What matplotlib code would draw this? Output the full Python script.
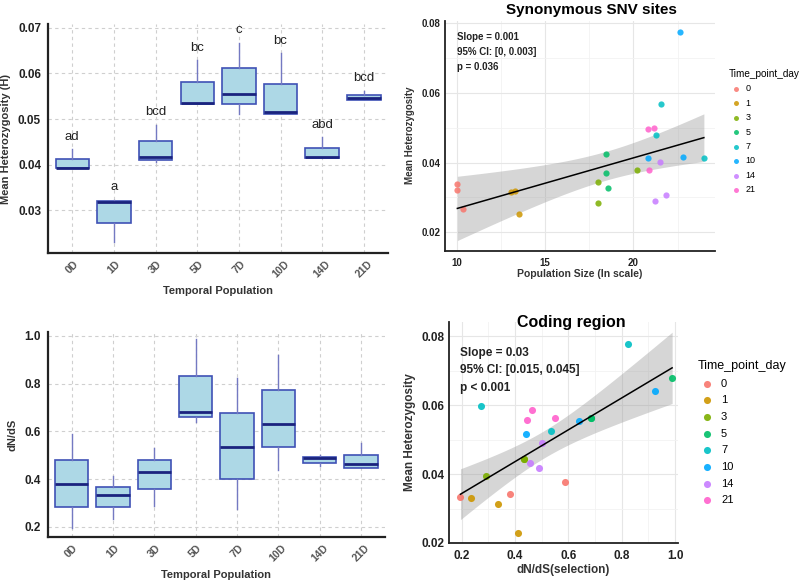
import numpy as np
import matplotlib
matplotlib.use("Agg")
import matplotlib.pyplot as plt

plt.rcParams['font.family'] = ['Liberation Sans', 'DejaVu Sans']

# --------- box plot data ---------
groups = ["0D", "1D", "3D", "5D", "7D", "10D", "14D", "21D"]

# Mean heterozygosity per temporal population
het_whislo = [0.0392, 0.0230, 0.0405, 0.0534, 0.0511, 0.0512, 0.0414, 0.0542]
het_q1     = [0.0392, 0.0272, 0.0410, 0.0534, 0.0532, 0.0512, 0.0414, 0.0542]
het_med    = [0.0393, 0.0318, 0.0416, 0.0536, 0.0555, 0.0515, 0.0417, 0.0546]
het_q3     = [0.0413, 0.0320, 0.0451, 0.0582, 0.0611, 0.0576, 0.0437, 0.0553]
het_whishi = [0.0434, 0.0324, 0.0488, 0.0629, 0.0667, 0.0644, 0.0461, 0.0562]
het_letters = ["ad", "a", "bcd", "bc", "c", "bc", "abd", "bcd"]

# dN/dS per temporal population
dnds_whislo = [0.193, 0.231, 0.287, 0.641, 0.274, 0.439, 0.455, 0.447]
dnds_q1     = [0.284, 0.281, 0.357, 0.662, 0.399, 0.534, 0.467, 0.447]
dnds_med    = [0.378, 0.333, 0.429, 0.683, 0.533, 0.632, 0.488, 0.462]
dnds_q3     = [0.478, 0.368, 0.478, 0.832, 0.676, 0.775, 0.491, 0.502]
dnds_whishi = [0.590, 0.411, 0.531, 0.989, 0.823, 0.921, 0.500, 0.550]

# --------- scatter data ---------
days = [0, 1, 3, 5, 7, 10, 14, 21]
day_colors = ["#F8766D", "#CD9600", "#7CAE00", "#00BE67",
              "#00BFC4", "#00A9FF", "#C77CFF", "#FF61CC"]

syn_day = [0, 0, 0, 1, 1, 1, 3, 3, 3, 5, 5, 5, 7, 7, 7, 10, 10, 10, 14, 14, 14, 21, 21, 21]
syn_popsize = [10.04, 10.04, 10.38, 13.08, 13.30, 13.53, 18.01, 18.01, 20.22,
               18.45, 18.45, 18.55, 21.55, 21.30, 23.99, 22.64, 20.85, 22.81,
               21.49, 21.20, 21.83, 20.85, 21.15, 20.90]
syn_het = [0.0338, 0.0322, 0.0266, 0.0315, 0.0318, 0.0252, 0.0343, 0.0283, 0.0379,
           0.0424, 0.0370, 0.0328, 0.0568, 0.0480, 0.0414, 0.0774, 0.0412, 0.0416,
           0.0402, 0.0291, 0.0306, 0.0496, 0.0499, 0.0380]

cod_day = syn_day
cod_dnds = [0.195, 0.381, 0.586, 0.235, 0.334, 0.411, 0.289, 0.433, 0.433,
            0.989, 0.684, 0.684, 0.273, 0.825, 0.534, 0.439, 0.638, 0.925,
            0.456, 0.491, 0.500, 0.443, 0.463, 0.549]
cod_het = [0.0334, 0.0343, 0.0376, 0.0330, 0.0313, 0.0229, 0.0394, 0.0443, 0.0443,
           0.0679, 0.0564, 0.0564, 0.0598, 0.0778, 0.0526, 0.0517, 0.0555, 0.0643,
           0.0431, 0.0418, 0.0491, 0.0556, 0.0586, 0.0562]

BOX_FACE = "#ADD8E6"
BOX_EDGE = "#3F51B5"
MED_COL = "#1A237E"
WHISK_COL = "#7479C2"


def boxpanel(ax, q1, med, q3, lo, hi, ylabel, ylim, yticks, letters=None):
    stats = []
    for i in range(len(groups)):
        stats.append(dict(med=med[i], q1=q1[i], q3=q3[i], whislo=lo[i], whishi=hi[i],
                          fliers=[], label=groups[i]))
    pos = np.arange(1, len(groups) + 1)
    ax.bxp(stats, positions=pos, widths=0.8, patch_artist=True, showcaps=False,
           boxprops=dict(facecolor=BOX_FACE, edgecolor=BOX_EDGE, linewidth=1.2),
           medianprops=dict(color=MED_COL, linewidth=2),
           whiskerprops=dict(color=WHISK_COL, linewidth=1.0), zorder=3)
    ax.set_xlim(0.42, 8.58)
    ax.set_ylim(*ylim)
    ax.set_yticks(yticks)
    ax.set_xticks(pos)
    ax.set_xticklabels(groups, rotation=45, ha='center', fontsize=7.5,
                       fontweight='bold', color='#555555')
    for lab in ax.get_yticklabels():
        lab.set_fontweight('bold')
        lab.set_fontsize(8.5)
        lab.set_color('#222222')
    ax.grid(True, linestyle=(0, (3, 3)), color='#CFCFCF', linewidth=0.8, zorder=0)
    ax.set_axisbelow(True)
    ax.tick_params(axis='y', length=0, pad=5)
    ax.tick_params(axis='x', length=0, pad=4)
    for s in ['top', 'right']:
        ax.spines[s].set_visible(False)
    for s in ['left', 'bottom']:
        ax.spines[s].set_color('#222222')
        ax.spines[s].set_linewidth(1.6)
    ax.set_xlabel("Temporal Population", fontsize=8, fontweight='bold', color='#333333', labelpad=5)
    ax.set_ylabel(ylabel, fontsize=8, fontweight='bold', color='#333333', labelpad=5)
    if letters:
        for x, h, t in zip(pos, hi, letters):
            ax.text(x, h + 0.0027, t, ha='center', va='center', fontsize=9.5, color='#222222')


def fit_band(x, y):
    x = np.asarray(x); y = np.asarray(y)
    n = len(x)
    b, a = np.polyfit(x, y, 1)
    resid = y - (a + b * x)
    s = np.sqrt(np.sum(resid ** 2) / (n - 2))
    sxx = np.sum((x - x.mean()) ** 2)
    xs = np.linspace(x.min(), x.max(), 80)
    yh = a + b * xs
    se = s * np.sqrt(1.0 / n + (xs - x.mean()) ** 2 / sxx)
    t = 2.074  # t(0.975, df=22)
    return xs, yh, yh - t * se, yh + t * se


def scatterpanel(ax, x, y, day, xlim, ylim, xticks, yticks, xminor, yminor, psize, alpha):
    xs, yh, lo, hi = fit_band(x, y)
    ax.fill_between(xs, lo, hi, color='#999999', alpha=0.4, linewidth=0, zorder=1)
    ax.plot(xs, yh, color='black', linewidth=1.1, zorder=3)
    x = np.asarray(x); y = np.asarray(y); day = np.asarray(day)
    for d, c in zip(days, day_colors):
        m = day == d
        ax.scatter(x[m], y[m], s=psize, color=c, alpha=alpha, linewidths=0, zorder=2, label=str(d))
    ax.set_xlim(*xlim)
    ax.set_ylim(*ylim)
    ax.set_xticks(xticks)
    ax.set_yticks(yticks)
    ax.set_xticks(xminor, minor=True)
    ax.set_yticks(yminor, minor=True)
    ax.grid(True, which='major', color='#E6E6E6', linewidth=0.8, zorder=0)
    ax.grid(True, which='minor', color='#F2F2F2', linewidth=0.6, zorder=0)
    ax.set_axisbelow(True)
    ax.tick_params(which='both', length=0, pad=3)
    for s in ['top', 'right']:
        ax.spines[s].set_visible(False)
    for s in ['left', 'bottom']:
        ax.spines[s].set_color('#222222')
        ax.spines[s].set_linewidth(1.3)


fig = plt.figure(figsize=(8, 5.84), dpi=100)
W, H = 800.0, 584.0

# top-left: heterozygosity boxes
ax1 = fig.add_axes([48 / W, 1 - 253 / H, 340 / W, 229 / H])
boxpanel(ax1, het_q1, het_med, het_q3, het_whislo, het_whishi,
         "Mean Heterozygosity (H)", (0.0207, 0.0708),
         [0.03, 0.04, 0.05, 0.06, 0.07], het_letters)

# bottom-left: dN/dS boxes
ax2 = fig.add_axes([47.7 / W, 1 - 537.3 / H, 337.3 / W, 205.6 / H])
boxpanel(ax2, dnds_q1, dnds_med, dnds_q3, dnds_whislo, dnds_whishi,
         "dN/dS", (0.1556, 1.0176), [0.2, 0.4, 0.6, 0.8, 1.0])

# top-right: synonymous SNV sites
ax3 = fig.add_axes([445 / W, 1 - 250.7 / H, 270 / W, 230 / H])
scatterpanel(ax3, syn_popsize, syn_het, syn_day, (9.34, 24.62), (0.0147, 0.0807),
             [10, 15, 20], [0.02, 0.04, 0.06, 0.08], [12.5, 17.5, 22.5],
             [0.03, 0.05, 0.07], 20, 0.85)
for lab in ax3.get_xticklabels() + ax3.get_yticklabels():
    lab.set_fontweight('bold'); lab.set_fontsize(7); lab.set_color('#222222')
ax3.tick_params(axis='x', pad=5)
ax3.set_xlabel("Population Size (ln scale)", fontsize=7.5, fontweight='bold', color='#333333', labelpad=1)
ax3.set_ylabel("Mean Heterozygosity", fontsize=7, fontweight='bold', color='#333333', labelpad=5)
fig.text(591 / W, 1 - 10 / H, "Synonymous SNV sites", fontsize=11, fontweight='bold',
         ha='center', va='center')
for i, t in enumerate(["Slope = 0.001", "95% CI: [0, 0.003]", "p = 0.036"]):
    ax3.text(0.045, 0.93 - i * 0.066, t, transform=ax3.transAxes, fontsize=7,
             fontweight='bold', color='#222222', va='center')
leg3 = ax3.legend(title="Time_point_day", loc='upper left', bbox_to_anchor=(1.05, 0.79),
                  frameon=False, fontsize=6.5, title_fontsize=7.2, handletextpad=0.3,
                  labelspacing=0.6, markerscale=0.8, borderaxespad=0, borderpad=0,
                  handlelength=1.6)
leg3._legend_box.align = "left"

# bottom-right: coding region
ax4 = fig.add_axes([449 / W, 1 - 543.3 / H, 229 / W, 221.6 / H])
scatterpanel(ax4, cod_dnds, cod_het, cod_day, (0.152, 1.011), (0.0199, 0.0843),
             [0.2, 0.4, 0.6, 0.8, 1.0], [0.02, 0.04, 0.06, 0.08],
             [0.3, 0.5, 0.7, 0.9], [0.03, 0.05, 0.07], 26, 0.9)
ax4.set_xticklabels(["0.2", "0.4", "0.6", "0.8", "1.0"])
for lab in ax4.get_xticklabels() + ax4.get_yticklabels():
    lab.set_fontweight('bold'); lab.set_fontsize(8.5); lab.set_color('#222222')
ax4.tick_params(axis='x', pad=5)
ax4.set_xlabel("dN/dS(selection)", fontsize=8.5, fontweight='bold', color='#333333', labelpad=1)
ax4.set_ylabel("Mean Heterozygosity", fontsize=8.5, fontweight='bold', color='#333333', labelpad=4)
fig.text(571 / W, 1 - 323 / H, "Coding region", fontsize=11.5, fontweight='bold',
         ha='center', va='center')
for i, t in enumerate(["Slope = 0.03", "95% CI: [0.015, 0.045]", "p < 0.001"]):
    ax4.text(0.05, 0.86 - i * 0.08, t, transform=ax4.transAxes, fontsize=8.5,
             fontweight='bold', color='#222222', va='center')
leg4 = ax4.legend(title="Time_point_day", loc='upper left', bbox_to_anchor=(1.086, 0.827),
                  frameon=False, fontsize=8, title_fontsize=9, handletextpad=0.5,
                  labelspacing=0.6, borderaxespad=0, borderpad=0, handlelength=1.6)
leg4._legend_box.align = "left"

fig.savefig("out.png", dpi=100)
